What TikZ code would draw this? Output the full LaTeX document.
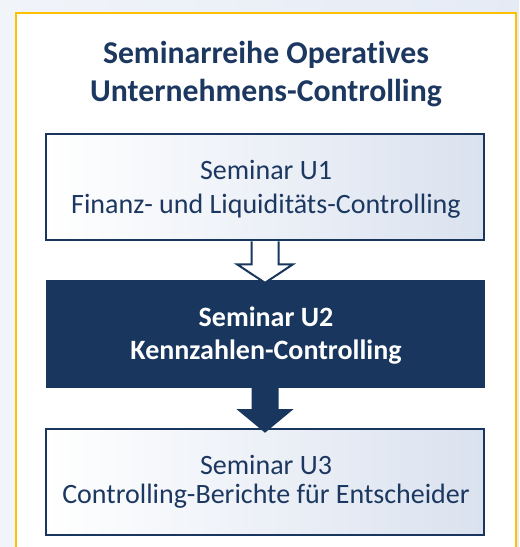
\documentclass[tikz,border=0pt]{standalone}
\usepackage{fontspec}
\setmainfont{Carlito}[Ligatures=NoCommon]
\usetikzlibrary{calc}
\definecolor{navy}{RGB}{24,54,94}
\definecolor{navytext}{RGB}{28,56,96}
\definecolor{gold}{RGB}{255,192,0}
\definecolor{bgl}{RGB}{241,244,249}
\definecolor{bgr}{RGB}{229,235,245}
\definecolor{boxr}{RGB}{218,226,239}
\tikzset{
  lightbox/.style={draw=navy, line width=1.9pt, left color=white, right color=boxr,
    minimum width=328.5pt, minimum height=79.5pt, inner sep=0pt},
  darkbox/.style={fill=navy, draw=navy, line width=0.5pt,
    minimum width=328.5pt, minimum height=80pt, inner sep=0pt},
  hollowarrow/.style={draw=navy, fill=white, line width=1.5pt, line join=miter},
  lighttext/.style={anchor=base, inner sep=0pt, text=navytext, font=\fontsize{21}{25}\selectfont},
  darktext/.style={anchor=base, inner sep=0pt, text=white, font=\fontsize{21}{25}\selectfont\bfseries},
  titletext/.style={anchor=base, inner sep=0pt, text=navytext, font=\fontsize{23.8}{28.5}\selectfont\bfseries}
}
\begin{document}
\begin{tikzpicture}[x=0.75pt, y=-0.75pt]
\useasboundingbox (0,0) rectangle (519,547);
\shade[left color=bgl, right color=bgr] (0,0) rectangle (519,547);
\begin{scope}
\clip (0,0) rectangle (519,547);
\draw[gold, line width=1.9pt, fill=white] (16,13) rectangle (516,570);
\end{scope}
\node[titletext] (title1) at (266,63.3) {Seminarreihe Operatives};
\node[titletext] (title2) at (266,101) {Unternehmens-Controlling};
\node[lightbox] (b1) at (265,187) {};
\node[darkbox] (b2) at (265,333.5) {};
\node[lightbox] (b3) at (265,482) {};
\node[lighttext] (t1a) at ($(b1.north)+(1,46.7)$) {Seminar U1};
\node[lighttext] (t1b) at ($(b1.north)+(1,81)$) {Finanz- und Liquiditäts-Controlling};
\node[darktext] (t2a) at ($(b2.north)+(1,46.7)$) {Seminar U2};
\node[darktext] (t2b) at ($(b2.north)+(1,80)$) {Kennzahlen-Controlling};
\node[lighttext] (t3a) at ($(b3.north)+(1,47)$) {Seminar U3};
\node[lighttext] (t3b) at ($(b3.north)+(1,76)$) {Controlling-Berichte für Entscheider};
% hollow arrow U1 -> U2
\draw[hollowarrow] ($(b1.south)+(-13.5,0)$) -- ($(b1.south)+(-13.5,23)$) -- ($(b1.south)+(-28,23)$)
  -- ($(b2.north)+(0,3)$) -- ($(b1.south)+(28,23)$) -- ($(b1.south)+(13.5,23)$) -- ($(b1.south)+(13.5,0)$);
% solid arrow U2 -> U3
\fill[navy] ($(b2.south)+(-13.5,-1)$) -- ($(b2.south)+(-13.5,22)$) -- ($(b2.south)+(-28.5,22)$)
  -- ($(b3.north)+(0,5)$) -- ($(b2.south)+(28.5,22)$) -- ($(b2.south)+(13.5,22)$) -- ($(b2.south)+(13.5,-1)$) -- cycle;
\end{tikzpicture}
\end{document}
